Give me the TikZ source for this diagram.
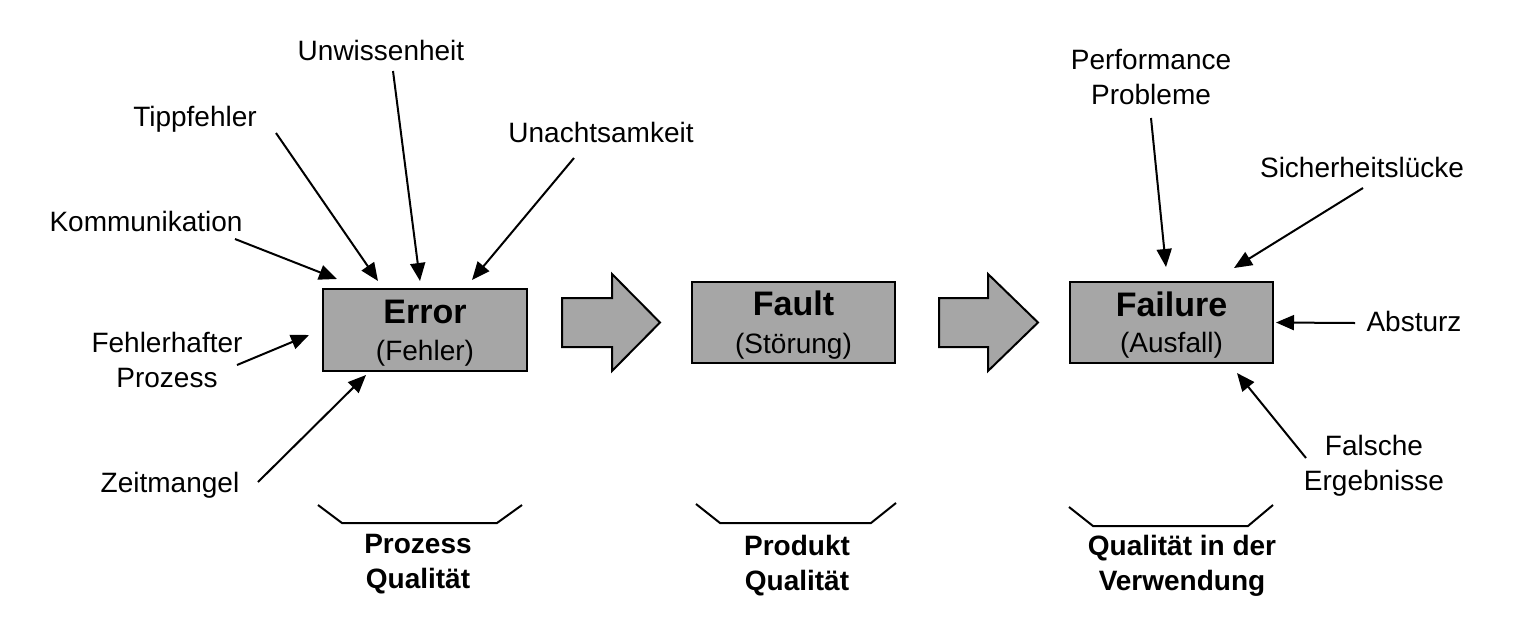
\documentclass[tikz,border=0pt]{standalone}
\usepackage{fontspec}
\setmainfont{Liberation Sans}
\usetikzlibrary{arrows.meta,calc}
\definecolor{boxgray}{HTML}{A6A6A6}
\tikzset{
  lbl/.style={anchor=base,inner sep=0pt,align=center,font=\fontsize{28}{34.5}\selectfont},
  qlbl/.style={anchor=base,inner sep=0pt,align=center,font=\fontsize{28}{34.5}\selectfont\bfseries},
  ttl/.style={anchor=base,inner sep=0pt,font=\fontsize{34}{40}\selectfont\bfseries},
  sub/.style={anchor=base,inner sep=0pt,font=\fontsize{28}{34}\selectfont},
  mainbox/.style={draw,line width=2pt,fill=boxgray,minimum width=204pt,minimum height=82pt,inner sep=0pt},
  arr/.style={line width=2pt,-{Triangle[length=18pt,width=15pt]}},
  blockarrow/.style={draw,line width=2pt,fill=boxgray,line join=miter},
  brack/.style={line width=2pt}
}
\begin{document}
\begin{tikzpicture}[x=1pt,y=-1pt]
\useasboundingbox (0,0) rectangle (1535,638);
% main boxes
\node[mainbox] (err) at (425,330) {};
\node[mainbox,minimum width=203pt,minimum height=81pt] (flt) at (793.5,322.5) {};
\node[mainbox,minimum width=203pt,minimum height=81pt] (fail) at (1171.5,322.5) {};
\node[ttl] (errt) at (425,323) {Error};
\node[sub] (errs) at (425,360) {(Fehler)};
\node[ttl] (fltt) at (793.5,315.5) {Fault};
\node[sub] (flts) at (793.5,353.5) {(Störung)};
\node[ttl] (failt) at (1171.5,316) {Failure};
\node[sub] (fails) at (1171.5,352) {(Ausfall)};
% block arrows
\draw[blockarrow] (562,298) -- (612,298) -- (612,274) -- (660,322.5) -- (612,371) -- (612,347) -- (562,347) -- cycle;
\draw[blockarrow] (939,298) -- (988,298) -- (988,274) -- (1038,322.5) -- (988,371) -- (988,347) -- (939,347) -- cycle;
% cause labels (base = baseline of the last line)
\node[lbl] (unw) at (381,60) {Unwissenheit};
\node[lbl] (tip) at (195,126) {Tippfehler};
\node[lbl] (kom) at (146,231) {Kommunikation};
\node[lbl] (una) at (601,142) {Unachtsamkeit};
\node[lbl] (feh) at (167,387) {Fehlerhafter\\Prozess};
\node[lbl] (zeit) at (170,492) {Zeitmangel};
\node[lbl] (perf) at (1151,104) {Performance\\Probleme};
\node[lbl] (sich) at (1362,177) {Sicherheitslücke};
\node[lbl] (abs) at (1414,331) {Absturz};
\node[lbl] (fal) at (1374,490) {Falsche\\Ergebnisse};
% arrows into Error
\draw[arr] ([shift={(12,11)}]unw.base) -- ([shift={(-5,-7)}]err.north);
\draw[arr] ([shift={(81,7)}]tip.base) -- ([shift={(-47,-7)}]err.north);
\draw[arr] ([shift={(89,8)}]kom.base) -- ([shift={(15,-9)}]err.north west);
\draw[arr] ([shift={(-27,16)}]una.base) -- ([shift={(-56,-8)}]err.north east);
\draw[arr] ([shift={(70,-22)}]feh.base) -- ([shift={(-13,5)}]err.west);
\draw[arr] ([shift={(88,-10)}]zeit.base) -- ([shift={(44,3)}]err.south west);
% arrows into Failure
\draw[arr] ([shift={(0,14)}]perf.base) -- ([shift={(-5.5,-14)}]fail.north);
\draw[arr] ([shift={(1,11)}]sich.base) -- ([shift={(-40,-13)}]fail.north east);
\draw[arr] ([shift={(-59,-8)}]abs.base) -- ([shift={(2,0)}]fail.east);
\draw[arr] ([shift={(-68,-32)}]fal.base) -- ([shift={(65.5,9)}]fail.south);
% brackets
\draw[brack] (318,505) -- (342,523) -- (497,523) -- (522,505);
\draw[brack] (696,504) -- (720,523) -- (871,523) -- (896,503);
\draw[brack] (1069,507) -- (1093,526) -- (1248,526) -- (1273,505);
% quality labels
\node[qlbl] (q1) at (418,588) {Prozess\\Qualität};
\node[qlbl] (q2) at (797,590) {Produkt\\Qualität};
\node[qlbl] (q3) at (1182,590) {Qualität in der\\Verwendung};
\end{tikzpicture}
\end{document}
